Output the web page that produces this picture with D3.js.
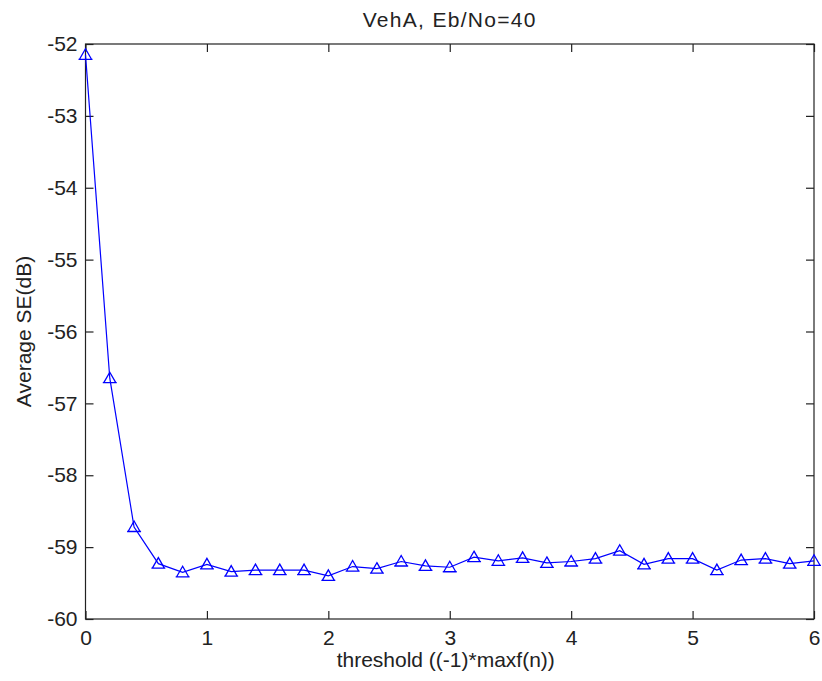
<!DOCTYPE html>
<html>
<head>
<meta charset="utf-8">
<script src="https://cdn.jsdelivr.net/npm/d3@7"></script>
<style>
  body { margin: 0; background: #fff; }
  text { font-family: Arial, "Liberation Sans", sans-serif; fill: #222; }
</style>
</head>
<body>
<svg id="chart" width="822" height="681"></svg>
<script>
var title = "VehA, Eb/No=40"
var x_label = "threshold ((-1)*maxf(n))"
var y_label = "Average SE(dB)"

var thresholds = [0, 0.2, 0.4, 0.6, 0.8, 1.0, 1.2, 1.4, 1.6, 1.8, 2.0, 2.2, 2.4, 2.6, 2.8, 3.0,
                  3.2, 3.4, 3.6, 3.8, 4.0, 4.2, 4.4, 4.6, 4.8, 5.0, 5.2, 5.4, 5.6, 5.8, 6.0]
var avg_se = [-52.15, -56.65, -58.72, -59.23, -59.35, -59.24, -59.34, -59.32, -59.32, -59.32, -59.40,
              -59.27, -59.30, -59.20, -59.26, -59.28, -59.14, -59.19, -59.15, -59.22, -59.20,
              -59.16, -59.05, -59.24, -59.16, -59.16, -59.32, -59.18, -59.16, -59.23, -59.19]
var x_ticks = [0, 1, 2, 3, 4, 5, 6]
var y_ticks = [-60, -59, -58, -57, -56, -55, -54, -53, -52]

function load_chart(){
  var svg = d3.select("#chart")
  var margin = {left: 85.5, right: 8, top: 44, bottom: 62}
  var width = parseFloat(svg.attr("width")) - margin.left - margin.right
  var height = parseFloat(svg.attr("height")) - margin.top - margin.bottom
  var font_size = 21
  var tick_len = 8

  var x = d3.scaleLinear().domain([0, 6]).range([0, width])
  var y = d3.scaleLinear().domain([-60, -52]).range([height, 0])

  // plain hyphen, not the unicode minus d3.format gives
  var plain = function(d){ return String(d) }

  var g = svg.append("g")
      .attr("transform", "translate(" + margin.left + "," + margin.top + ")")

  // ticks on all four sides, pointing inwards like matlab
  g.append("g").attr("transform", "translate(0," + height + ")")
      .call(d3.axisBottom(x).tickValues(x_ticks).tickSizeInner(-tick_len).tickSizeOuter(0).tickPadding(11).tickFormat(plain))
  g.append("g")
      .call(d3.axisTop(x).tickValues(x_ticks).tickSizeInner(-tick_len).tickSizeOuter(0).tickFormat(""))
  g.append("g")
      .call(d3.axisLeft(y).tickValues(y_ticks).tickSizeInner(-tick_len).tickSizeOuter(0).tickPadding(8).tickFormat(plain))
  g.append("g").attr("transform", "translate(" + width + ",0)")
      .call(d3.axisRight(y).tickValues(y_ticks).tickSizeInner(-tick_len).tickSizeOuter(0).tickFormat(""))

  g.selectAll(".domain").remove()
  g.selectAll(".tick line").attr("stroke", "#222").attr("stroke-width", 1.2)
  g.selectAll(".tick text")
      .attr("font-size", font_size)
      .attr("font-family", "Arial, 'Liberation Sans', sans-serif")
      .attr("fill", "#222")

  g.append("rect")
      .attr("width", width)
      .attr("height", height)
      .attr("fill", "none")
      .attr("stroke", "#222")
      .attr("stroke-width", 1.2)

  var pts = thresholds.map(function(d, i){
    return {x: d, y: avg_se[i]}
  })

  var line = d3.line()
      .x(function(d){ return x(d.x) })
      .y(function(d){ return y(d.y) })

  g.append("path")
      .datum(pts)
      .attr("d", line)
      .attr("fill", "none")
      .attr("stroke", "#0000ff")
      .attr("stroke-width", 1.2)

  g.selectAll(".marker")
      .data(pts)
      .enter()
      .append("path")
      .attr("class", "marker")
      .attr("transform", function(d){
        return "translate(" + x(d.x) + "," + y(d.y) + ")"
      })
      .attr("d", "M0,-6L6,4.5L-6,4.5Z M-7,4.5L7,4.5")
      .attr("fill", "none")
      .attr("stroke", "#0000ff")
      .attr("stroke-width", 1.3)

  svg.append("text")
      .attr("x", margin.left + width / 2)
      .attr("y", 27)
      .attr("text-anchor", "middle")
      .attr("font-size", font_size)
      .attr("letter-spacing", 1.3)
      .text(title)

  svg.append("text")
      .attr("x", margin.left + width / 2 - 4)
      .attr("y", 667)
      .attr("text-anchor", "middle")
      .attr("font-size", font_size)
      .text(x_label)

  svg.append("text")
      .attr("transform", "translate(31," + (margin.top + height / 2) + ") rotate(-90)")
      .attr("text-anchor", "middle")
      .attr("font-size", font_size)
      .text(y_label)
}

load_chart()
</script>
</body>
</html>
